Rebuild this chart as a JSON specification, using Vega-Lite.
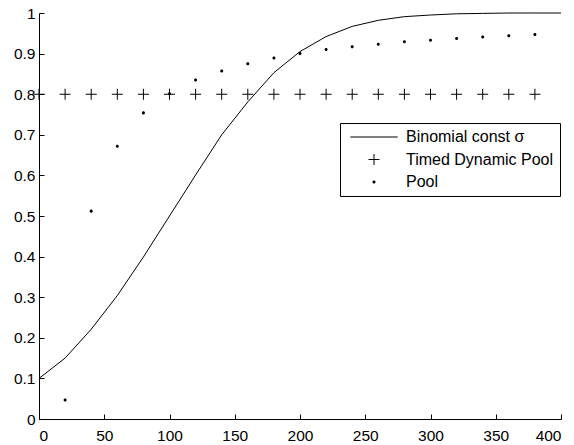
{
  "$schema": "https://vega.github.io/schema/vega-lite/v6.json",
  "width": 522,
  "height": 406,
  "autosize": "none",
  "padding": {"left": 39, "top": 13, "right": 13, "bottom": 26},
  "background": "white",
  "config": {
    "font": "Liberation Sans",
    "view": {"stroke": null},
    "axis": {
      "grid": false,
      "domainColor": "black",
      "tickColor": "black",
      "labelColor": "black",
      "labelFontSize": 15.5,
      "labelFont": "Liberation Sans",
      "tickSize": -5,
      "domainWidth": 1,
      "tickWidth": 1,
      "title": null
    }
  },
  "data": {
    "values": [
      {"series": "Binomial const σ", "x": 0, "y": 0.100},
      {"series": "Binomial const σ", "x": 20, "y": 0.150},
      {"series": "Binomial const σ", "x": 40, "y": 0.221},
      {"series": "Binomial const σ", "x": 60, "y": 0.304},
      {"series": "Binomial const σ", "x": 80, "y": 0.399},
      {"series": "Binomial const σ", "x": 100, "y": 0.500},
      {"series": "Binomial const σ", "x": 120, "y": 0.601},
      {"series": "Binomial const σ", "x": 140, "y": 0.700},
      {"series": "Binomial const σ", "x": 160, "y": 0.781},
      {"series": "Binomial const σ", "x": 180, "y": 0.853},
      {"series": "Binomial const σ", "x": 200, "y": 0.905},
      {"series": "Binomial const σ", "x": 220, "y": 0.942},
      {"series": "Binomial const σ", "x": 240, "y": 0.967},
      {"series": "Binomial const σ", "x": 260, "y": 0.982},
      {"series": "Binomial const σ", "x": 280, "y": 0.991},
      {"series": "Binomial const σ", "x": 300, "y": 0.995},
      {"series": "Binomial const σ", "x": 320, "y": 0.998},
      {"series": "Binomial const σ", "x": 340, "y": 0.999},
      {"series": "Binomial const σ", "x": 360, "y": 1.0},
      {"series": "Binomial const σ", "x": 380, "y": 1.0},
      {"series": "Binomial const σ", "x": 400, "y": 1.0},
      {"series": "Timed Dynamic Pool", "x": 0, "y": 0.8},
      {"series": "Timed Dynamic Pool", "x": 20, "y": 0.8},
      {"series": "Timed Dynamic Pool", "x": 40, "y": 0.8},
      {"series": "Timed Dynamic Pool", "x": 60, "y": 0.8},
      {"series": "Timed Dynamic Pool", "x": 80, "y": 0.8},
      {"series": "Timed Dynamic Pool", "x": 100, "y": 0.8},
      {"series": "Timed Dynamic Pool", "x": 120, "y": 0.8},
      {"series": "Timed Dynamic Pool", "x": 140, "y": 0.8},
      {"series": "Timed Dynamic Pool", "x": 160, "y": 0.8},
      {"series": "Timed Dynamic Pool", "x": 180, "y": 0.8},
      {"series": "Timed Dynamic Pool", "x": 200, "y": 0.8},
      {"series": "Timed Dynamic Pool", "x": 220, "y": 0.8},
      {"series": "Timed Dynamic Pool", "x": 240, "y": 0.8},
      {"series": "Timed Dynamic Pool", "x": 260, "y": 0.8},
      {"series": "Timed Dynamic Pool", "x": 280, "y": 0.8},
      {"series": "Timed Dynamic Pool", "x": 300, "y": 0.8},
      {"series": "Timed Dynamic Pool", "x": 320, "y": 0.8},
      {"series": "Timed Dynamic Pool", "x": 340, "y": 0.8},
      {"series": "Timed Dynamic Pool", "x": 360, "y": 0.8},
      {"series": "Timed Dynamic Pool", "x": 380, "y": 0.8},
      {"series": "Pool", "x": 20, "y": 0.047},
      {"series": "Pool", "x": 40, "y": 0.512},
      {"series": "Pool", "x": 60, "y": 0.672},
      {"series": "Pool", "x": 80, "y": 0.754},
      {"series": "Pool", "x": 100, "y": 0.801},
      {"series": "Pool", "x": 120, "y": 0.835},
      {"series": "Pool", "x": 140, "y": 0.857},
      {"series": "Pool", "x": 160, "y": 0.875},
      {"series": "Pool", "x": 180, "y": 0.889},
      {"series": "Pool", "x": 200, "y": 0.900},
      {"series": "Pool", "x": 220, "y": 0.910},
      {"series": "Pool", "x": 240, "y": 0.917},
      {"series": "Pool", "x": 260, "y": 0.923},
      {"series": "Pool", "x": 280, "y": 0.929},
      {"series": "Pool", "x": 300, "y": 0.933},
      {"series": "Pool", "x": 320, "y": 0.937},
      {"series": "Pool", "x": 340, "y": 0.941},
      {"series": "Pool", "x": 360, "y": 0.944},
      {"series": "Pool", "x": 380, "y": 0.947}
    ]
  },
  "encoding": {
    "x": {
      "field": "x", "type": "quantitative",
      "scale": {"domain": [0, 400], "nice": false, "zero": false},
      "axis": {"values": [0, 50, 100, 150, 200, 250, 300, 350, 400], "labelPadding": 14, "format": "d"}
    },
    "y": {
      "field": "y", "type": "quantitative",
      "scale": {"domain": [0, 1], "nice": false},
      "axis": {"values": [0, 0.1, 0.2, 0.3, 0.4, 0.5, 0.6, 0.7, 0.8, 0.9, 1], "format": "~g", "labelPadding": 9}
    }
  },
  "layer": [
    {
      "transform": [{"filter": "datum.series === 'Binomial const σ'"}],
      "mark": {"type": "line", "color": "black", "strokeWidth": 1, "clip": false}
    },
    {
      "transform": [{"filter": "datum.series !== 'Binomial const σ'"}],
      "mark": {"type": "point", "filled": true, "color": "black", "strokeWidth": 0, "size": 121, "opacity": 1, "clip": false},
      "encoding": {
        "shape": {
          "field": "series", "type": "nominal",
          "scale": {
            "domain": ["Binomial const σ", "Timed Dynamic Pool", "Pool"],
            "range": [
              "M-4.3,-0.09H4.3V0.09H-4.3Z",
              "M-1,-0.09H1V0.09H-1ZM-0.09,-1H0.09V1H-0.09Z",
              "M-0.28,0A0.28,0.28 0 1,1 0.28,0A0.28,0.28 0 1,1 -0.28,0Z"
            ]
          },
          "legend": {
            "title": null,
            "orient": "none",
            "legendX": 301,
            "legendY": 110,
            "strokeColor": "black",
            "fillColor": "white",
            "padding": 6,
            "symbolSize": 121,
            "symbolFillColor": "black",
            "symbolStrokeWidth": 0,
            "symbolOffset": 20,
            "labelOffset": 24,
            "labelFontSize": 16,
            "labelFont": "Liberation Sans",
            "labelColor": "black",
            "rowPadding": 6.5,
            "labelLimit": 300,
            "encode": {
              "symbols": {
                "update": {
                  "fill": {"value": "black"},
                  "opacity": {"value": 1}
                }
              }
            }
          }
        }
      }
    }
  ]
}
